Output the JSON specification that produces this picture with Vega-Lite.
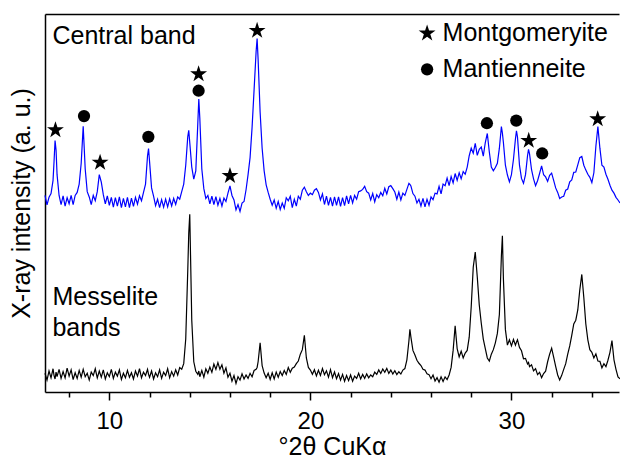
{
"$schema": "https://vega.github.io/schema/vega-lite/v6.json",
"width": 574, "height": 378,
"autosize": {"type": "none"},
"padding": {"left": 45, "top": 14, "right": 1, "bottom": 68},
"config": {"view": {"stroke": null}, "font": "Liberation Sans"},
"datasets": {
"xrd": [
{"x":6.8,"b":52.0,"k":4.95},{"x":6.9,"b":49.5,"k":3.15},{"x":7.0,"b":51.5,"k":5.55},{"x":7.1,"b":52.5,"k":3.75},{"x":7.2,"b":56.0,"k":6.15},{"x":7.25,"b":61.0,"k":4.35},{"x":7.3,"b":66.5,"k":3.45},{"x":7.35,"b":64.0,"k":5.25},{"x":7.4,"b":57.5,"k":4.05},{"x":7.5,"b":52.0,"k":6.0},
{"x":7.6,"b":49.6,"k":3.6},{"x":7.7,"b":51.9,"k":5.4},{"x":7.8,"b":49.2,"k":3.75},{"x":7.9,"b":51.4,"k":6.3},{"x":8.0,"b":49.8,"k":4.2},{"x":8.1,"b":52.0,"k":5.85},{"x":8.2,"b":49.6,"k":3.3},{"x":8.3,"b":52.0,"k":5.1},{"x":8.4,"b":52.8,"k":3.6},{"x":8.5,"b":55.0,"k":5.7},
{"x":8.6,"b":60.5,"k":3.9},{"x":8.7,"b":70.3,"k":6.0},{"x":8.8,"b":59.0,"k":4.05},{"x":8.9,"b":53.0,"k":4.95},{"x":9.0,"b":51.6,"k":3.15},{"x":9.1,"b":49.6,"k":5.25},{"x":9.2,"b":52.0,"k":4.35},{"x":9.3,"b":50.6,"k":6.15},{"x":9.4,"b":53.0,"k":3.75},{"x":9.5,"b":57.5,"k":5.55},
{"x":9.6,"b":55.5,"k":3.9},{"x":9.7,"b":52.2,"k":5.85},{"x":9.8,"b":49.8,"k":3.45},{"x":9.9,"b":51.9,"k":5.1},{"x":10.0,"b":49.4,"k":4.05},{"x":10.1,"b":51.5,"k":6.0},{"x":10.2,"b":48.9,"k":3.6},{"x":10.3,"b":51.4,"k":5.25},{"x":10.4,"b":49.2,"k":4.2},{"x":10.5,"b":51.6,"k":5.85},
{"x":10.6,"b":48.8,"k":3.3},{"x":10.7,"b":51.2,"k":4.95},{"x":10.8,"b":49.0,"k":3.75},{"x":10.9,"b":51.5,"k":5.7},{"x":11.0,"b":48.8,"k":3.9},{"x":11.1,"b":51.3,"k":5.1},{"x":11.2,"b":49.1,"k":3.45},{"x":11.3,"b":51.5,"k":5.55},{"x":11.4,"b":49.7,"k":4.2},{"x":11.5,"b":51.9,"k":6.15},
{"x":11.6,"b":50.6,"k":3.75},{"x":11.7,"b":52.8,"k":5.25},{"x":11.8,"b":55.0,"k":4.35},{"x":11.9,"b":62.5,"k":6.0},{"x":11.95,"b":64.4,"k":4.65},{"x":12.0,"b":61.0,"k":3.9},{"x":12.1,"b":54.0,"k":5.55},{"x":12.2,"b":51.8,"k":3.45},{"x":12.3,"b":49.3,"k":5.1},{"x":12.4,"b":51.0,"k":4.05},
{"x":12.5,"b":48.8,"k":5.85},{"x":12.6,"b":50.9,"k":3.6},{"x":12.7,"b":48.9,"k":5.25},{"x":12.8,"b":51.0,"k":4.35},{"x":12.9,"b":49.0,"k":6.15},{"x":13.0,"b":51.1,"k":3.75},{"x":13.1,"b":49.2,"k":5.4},{"x":13.2,"b":51.2,"k":4.2},{"x":13.3,"b":49.6,"k":5.85},{"x":13.4,"b":51.6,"k":4.5},
{"x":13.5,"b":51.0,"k":6.45},{"x":13.6,"b":53.0,"k":6.0},{"x":13.7,"b":55.0,"k":7.5},{"x":13.8,"b":60.0,"k":14.0},{"x":13.9,"b":67.5,"k":32.0},{"x":13.95,"b":69.2,"k":42.0},{"x":14.0,"b":66.0,"k":47.0},{"x":14.1,"b":59.5,"k":19.0},{"x":14.2,"b":56.3,"k":8.0},{"x":14.3,"b":58.5,"k":5.5},
{"x":14.4,"b":71.0,"k":4.65},{"x":14.45,"b":77.5,"k":5.55},{"x":14.5,"b":72.5,"k":4.05},{"x":14.6,"b":59.0,"k":5.7},{"x":14.7,"b":53.8,"k":3.9},{"x":14.8,"b":51.2,"k":6.15},{"x":14.9,"b":52.0,"k":4.95},{"x":15.0,"b":49.8,"k":6.6},{"x":15.1,"b":51.8,"k":5.2},{"x":15.2,"b":49.6,"k":7.4},
{"x":15.3,"b":51.7,"k":6.0},{"x":15.4,"b":49.4,"k":7.8},{"x":15.5,"b":51.2,"k":6.0},{"x":15.6,"b":49.2,"k":7.2},{"x":15.7,"b":51.3,"k":5.0},{"x":15.8,"b":50.4,"k":6.4},{"x":15.9,"b":52.6,"k":3.9},{"x":16.0,"b":54.5,"k":4.95},{"x":16.1,"b":52.0,"k":2.85},{"x":16.2,"b":50.8,"k":4.35},
{"x":16.3,"b":48.2,"k":2.25},{"x":16.4,"b":49.6,"k":4.05},{"x":16.5,"b":47.8,"k":3.15},{"x":16.6,"b":50.0,"k":4.8},{"x":16.7,"b":50.4,"k":3.45},{"x":16.8,"b":53.5,"k":4.5},{"x":16.9,"b":57.5,"k":3.6},{"x":17.0,"b":62.0,"k":4.95},{"x":17.1,"b":70.0,"k":4.05},{"x":17.2,"b":80.0,"k":5.7},
{"x":17.3,"b":90.0,"k":6.0},{"x":17.35,"b":93.5,"k":6.5},{"x":17.4,"b":88.0,"k":8.0},{"x":17.5,"b":74.0,"k":13.0},{"x":17.6,"b":64.5,"k":7.0},{"x":17.7,"b":58.5,"k":5.0},{"x":17.8,"b":54.8,"k":3.75},{"x":17.9,"b":52.8,"k":4.95},{"x":18.0,"b":51.0,"k":3.3},{"x":18.1,"b":49.4,"k":5.1},
{"x":18.2,"b":50.8,"k":3.45},{"x":18.3,"b":48.6,"k":5.25},{"x":18.4,"b":50.4,"k":3.9},{"x":18.5,"b":48.3,"k":5.4},{"x":18.6,"b":50.0,"k":4.35},{"x":18.7,"b":48.6,"k":5.7},{"x":18.8,"b":51.4,"k":4.65},{"x":18.9,"b":50.6,"k":6.45},{"x":19.0,"b":51.8,"k":5.2},{"x":19.1,"b":48.8,"k":6.3},
{"x":19.2,"b":51.0,"k":6.6},{"x":19.3,"b":49.2,"k":7.5},{"x":19.4,"b":51.8,"k":8.2},{"x":19.5,"b":51.0,"k":10.0},{"x":19.6,"b":53.4,"k":11.2},{"x":19.7,"b":54.2,"k":15.0},{"x":19.8,"b":53.0,"k":9.0},{"x":19.9,"b":52.0,"k":6.5},{"x":20.0,"b":52.6,"k":5.8},{"x":20.1,"b":52.2,"k":4.7},
{"x":20.2,"b":53.4,"k":5.9},{"x":20.3,"b":53.8,"k":4.25},{"x":20.4,"b":52.8,"k":5.75},{"x":20.5,"b":50.8,"k":4.4},{"x":20.6,"b":52.4,"k":6.2},{"x":20.7,"b":49.6,"k":4.55},{"x":20.8,"b":51.8,"k":5.6},{"x":20.9,"b":49.4,"k":3.95},{"x":21.0,"b":51.5,"k":5.9},{"x":21.1,"b":49.2,"k":3.8},
{"x":21.2,"b":51.6,"k":5.3},{"x":21.3,"b":49.4,"k":3.5},{"x":21.4,"b":51.6,"k":4.85},{"x":21.5,"b":49.1,"k":3.15},{"x":21.6,"b":51.4,"k":4.65},{"x":21.7,"b":49.3,"k":2.85},{"x":21.8,"b":51.9,"k":4.35},{"x":21.9,"b":49.8,"k":3.0},{"x":22.0,"b":52.0,"k":4.5},{"x":22.1,"b":50.0,"k":2.85},
{"x":22.2,"b":52.0,"k":4.2},{"x":22.3,"b":51.0,"k":3.6},{"x":22.4,"b":53.0,"k":4.95},{"x":22.5,"b":53.2,"k":3.45},{"x":22.6,"b":53.6,"k":4.65},{"x":22.7,"b":54.4,"k":3.6},{"x":22.8,"b":53.0,"k":4.8},{"x":22.9,"b":52.6,"k":3.75},{"x":23.0,"b":50.8,"k":4.5},{"x":23.1,"b":52.5,"k":4.05},
{"x":23.2,"b":50.3,"k":5.25},{"x":23.3,"b":52.2,"k":4.65},{"x":23.4,"b":51.4,"k":5.85},{"x":23.5,"b":52.8,"k":4.9},{"x":23.6,"b":51.9,"k":6.1},{"x":23.7,"b":53.9,"k":5.2},{"x":23.8,"b":52.4,"k":6.25},{"x":23.9,"b":54.3,"k":4.9},{"x":24.0,"b":54.6,"k":5.8},{"x":24.1,"b":53.8,"k":4.75},
{"x":24.2,"b":52.9,"k":5.65},{"x":24.3,"b":51.0,"k":4.6},{"x":24.4,"b":52.9,"k":5.35},{"x":24.5,"b":50.8,"k":4.75},{"x":24.6,"b":52.6,"k":5.8},{"x":24.7,"b":52.0,"k":6.2},{"x":24.8,"b":53.6,"k":8.5},{"x":24.9,"b":55.2,"k":13.5},{"x":24.95,"b":54.9,"k":16.6},{"x":25.0,"b":54.5,"k":14.5},
{"x":25.1,"b":52.5,"k":11.0},{"x":25.2,"b":51.8,"k":9.8},{"x":25.3,"b":50.0,"k":8.4},{"x":25.4,"b":51.0,"k":7.6},{"x":25.5,"b":49.2,"k":7.0},{"x":25.6,"b":51.2,"k":6.0},{"x":25.7,"b":49.0,"k":5.8},{"x":25.8,"b":51.0,"k":4.8},{"x":25.9,"b":49.4,"k":4.6},{"x":26.0,"b":51.6,"k":3.5},
{"x":26.1,"b":50.9,"k":4.5},{"x":26.2,"b":52.6,"k":2.9},{"x":26.3,"b":52.4,"k":3.8},{"x":26.4,"b":54.4,"k":2.6},{"x":26.5,"b":52.4,"k":4.0},{"x":26.6,"b":55.0,"k":2.8},{"x":26.7,"b":54.6,"k":4.0},{"x":26.8,"b":56.6,"k":3.3},{"x":26.9,"b":54.6,"k":4.5},{"x":27.0,"b":57.0,"k":6.5},
{"x":27.1,"b":55.3,"k":11.0},{"x":27.2,"b":57.8,"k":17.5},{"x":27.3,"b":56.0,"k":11.5},{"x":27.4,"b":58.0,"k":9.3},{"x":27.5,"b":56.4,"k":10.8},{"x":27.6,"b":58.3,"k":9.0},{"x":27.7,"b":57.6,"k":10.3},{"x":27.8,"b":59.5,"k":11.0},{"x":27.9,"b":62.5,"k":14.5},{"x":28.0,"b":64.5,"k":22.6},
{"x":28.1,"b":63.2,"k":33.0},{"x":28.2,"b":65.8,"k":37.0},{"x":28.3,"b":62.6,"k":30.5},{"x":28.4,"b":64.2,"k":23.0},{"x":28.5,"b":64.8,"k":18.2},{"x":28.6,"b":62.4,"k":14.0},{"x":28.7,"b":66.0,"k":11.5},{"x":28.8,"b":68.4,"k":9.0},{"x":28.9,"b":63.5,"k":8.2},{"x":29.0,"b":59.5,"k":10.0},
{"x":29.1,"b":58.5,"k":11.2},{"x":29.2,"b":59.4,"k":13.0},{"x":29.3,"b":60.5,"k":15.5},{"x":29.4,"b":64.5,"k":20.5},{"x":29.5,"b":70.2,"k":36.0},{"x":29.55,"b":68.5,"k":41.3},{"x":29.6,"b":66.0,"k":30.0},{"x":29.7,"b":60.0,"k":16.5},{"x":29.8,"b":57.4,"k":12.4},{"x":29.9,"b":55.6,"k":13.8},
{"x":30.0,"b":57.5,"k":12.2},{"x":30.1,"b":61.5,"k":13.9},{"x":30.2,"b":67.0,"k":12.4},{"x":30.25,"b":69.1,"k":13.2},{"x":30.3,"b":67.5,"k":13.8},{"x":30.4,"b":60.0,"k":11.8},{"x":30.5,"b":56.5,"k":10.9},{"x":30.6,"b":55.2,"k":8.8},{"x":30.7,"b":57.5,"k":8.9},{"x":30.8,"b":62.5,"k":7.4},
{"x":30.85,"b":64.2,"k":7.8},{"x":30.9,"b":63.0,"k":6.7},{"x":31.0,"b":58.8,"k":7.2},{"x":31.1,"b":56.4,"k":5.6},{"x":31.2,"b":54.6,"k":6.2},{"x":31.3,"b":55.9,"k":4.6},{"x":31.4,"b":57.8,"k":5.2},{"x":31.5,"b":59.8,"k":3.8},{"x":31.6,"b":57.5,"k":4.9},{"x":31.7,"b":56.9,"k":5.5},
{"x":31.8,"b":55.7,"k":8.0},{"x":31.9,"b":57.3,"k":10.0},{"x":32.0,"b":57.9,"k":11.6},{"x":32.1,"b":56.0,"k":9.2},{"x":32.2,"b":54.0,"k":6.8},{"x":32.3,"b":52.8,"k":4.5},{"x":32.4,"b":51.2,"k":3.2},{"x":32.5,"b":51.6,"k":4.4},{"x":32.6,"b":51.8,"k":6.0},{"x":32.7,"b":53.4,"k":7.5},
{"x":32.8,"b":53.7,"k":10.0},{"x":32.9,"b":55.6,"k":12.2},{"x":33.0,"b":56.1,"k":15.0},{"x":33.1,"b":58.1,"k":18.0},{"x":33.2,"b":58.2,"k":19.0},{"x":33.3,"b":60.1,"k":21.7},{"x":33.4,"b":62.0,"k":27.0},{"x":33.5,"b":62.3,"k":31.1},{"x":33.6,"b":60.0,"k":25.0},{"x":33.7,"b":58.7,"k":18.0},
{"x":33.8,"b":57.6,"k":13.8},{"x":33.9,"b":56.8,"k":11.2},{"x":34.0,"b":55.4,"k":10.5},{"x":34.1,"b":58.0,"k":9.0},{"x":34.2,"b":65.0,"k":10.1},{"x":34.3,"b":70.2,"k":8.2},{"x":34.4,"b":64.5,"k":8.1},{"x":34.5,"b":60.0,"k":6.4},{"x":34.6,"b":59.5,"k":7.5},{"x":34.7,"b":57.6,"k":6.7},
{"x":34.8,"b":56.3,"k":8.4},{"x":34.9,"b":54.7,"k":10.5},{"x":35.0,"b":53.4,"k":13.6},{"x":35.1,"b":52.6,"k":8.5},{"x":35.2,"b":51.5,"k":6.0},{"x":35.3,"b":50.8,"k":4.0},{"x":35.4,"b":50.0,"k":3.5}
],
"marks": [
{"x":7.32,"y":69.3,"mineral":"Montgomeryite"},{"x":9.54,"y":60.7,"mineral":"Montgomeryite"},{"x":14.44,"y":84.1,"mineral":"Montgomeryite"},{"x":16.0,"y":57.2,"mineral":"Montgomeryite"},{"x":17.35,"y":95.6,"mineral":"Montgomeryite"},{"x":30.86,"y":66.5,"mineral":"Montgomeryite"},{"x":34.29,"y":72.2,"mineral":"Montgomeryite"},
{"x":8.74,"y":73.0,"mineral":"Mantienneite"},{"x":11.94,"y":67.5,"mineral":"Mantienneite"},{"x":14.44,"y":79.7,"mineral":"Mantienneite"},{"x":28.78,"y":71.1,"mineral":"Mantienneite"},{"x":30.24,"y":71.8,"mineral":"Mantienneite"},{"x":31.53,"y":63.1,"mineral":"Mantienneite"}
],
"labels": [
{"x":7.17,"y":94.1,"t":"Central band"},{"x":7.17,"y":25.1,"t":"Messelite"},{"x":7.17,"y":16.9,"t":"bands"}
]
},
"data": {"name": "xrd"},
"resolve": {"axis": {"x": "independent", "y": "independent"}},
"layer": [
{
"mark": {"type": "line", "color": "#0000ff", "strokeWidth": 1.2},
"encoding": {
"x": {"field": "x", "type": "quantitative", "scale": {"domain": [6.8, 35.35], "nice": false, "zero": false},
"axis": {"orient": "bottom", "values": [8,10,12,14,16,18,20,22,24,26,28,30,32,34], "format": "d",
"labelExpr": "datum.value % 10 === 0 ? datum.label : ''", "labelOverlap": false, "labelFlush": false,
"labelFontSize": 24, "labelColor": "black", "labelFont": "Liberation Sans", "labelPadding": 9,
"tickSize": {"condition": {"test": "datum.value % 10 === 0", "value": 8}, "value": 5},
"tickColor": "black", "tickWidth": 1.5, "domainColor": "black", "domainWidth": 1.5, "grid": false,
"title": "°2θ CuKα", "titleFontSize": 25, "titleFontWeight": "normal", "titleColor": "black", "titleFont": "Liberation Sans", "titlePadding": 1}},
"y": {"field": "b", "type": "quantitative", "scale": {"domain": [0, 100], "nice": false, "zero": false},
"axis": {"orient": "left", "labels": false, "ticks": false, "grid": false, "domainColor": "black", "domainWidth": 1.5,
"title": "X-ray intensity (a. u.)", "titleFontSize": 25, "titleFontWeight": "normal", "titleColor": "black", "titleFont": "Liberation Sans", "titlePadding": 11}}
}
},
{
"mark": {"type": "line", "color": "black", "strokeWidth": 1.2},
"encoding": {
"x": {"field": "x", "type": "quantitative", "axis": null},
"y": {"field": "k", "type": "quantitative", "axis": null}
}
},
{
"data": {"name": "marks"},
"mark": {"type": "point", "filled": true, "opacity": 1, "color": "black", "size": 150},
"encoding": {
"x": {"field": "x", "type": "quantitative", "axis": null},
"y": {"field": "y", "type": "quantitative", "axis": null},
"shape": {"field": "mineral", "type": "nominal",
"scale": {"domain": ["Montgomeryite", "Mantienneite"], "range": ["M0,-1.45L0.325,-0.448L1.379,-0.448L0.527,0.172L0.852,1.173L0,0.553L-0.852,1.173L-0.527,0.172L-1.379,-0.448L-0.325,-0.448Z", "circle"]},
"legend": {"orient": "none", "legendX": 369.6, "legendY": 6.8, "title": null, "padding": 0,
"labelFontSize": 25, "labelFont": "Liberation Sans", "labelColor": "black", "labelOffset": 3, "rowPadding": 10, "labelLimit": 0,
"symbolSize": 150, "symbolFillColor": "black", "symbolStrokeColor": "black", "symbolStrokeWidth": 0, "symbolOpacity": 1}}
}
},
{
"data": {"name": "labels"},
"mark": {"type": "text", "align": "left", "baseline": "middle", "fontSize": 25, "font": "Liberation Sans", "color": "black"},
"encoding": {
"x": {"field": "x", "type": "quantitative",
"axis": {"orient": "top", "labels": false, "ticks": false, "grid": false, "title": null, "domainColor": "black", "domainWidth": 1.5}},
"y": {"field": "y", "type": "quantitative", "axis": null},
"text": {"field": "t"}
}
}
]
}
